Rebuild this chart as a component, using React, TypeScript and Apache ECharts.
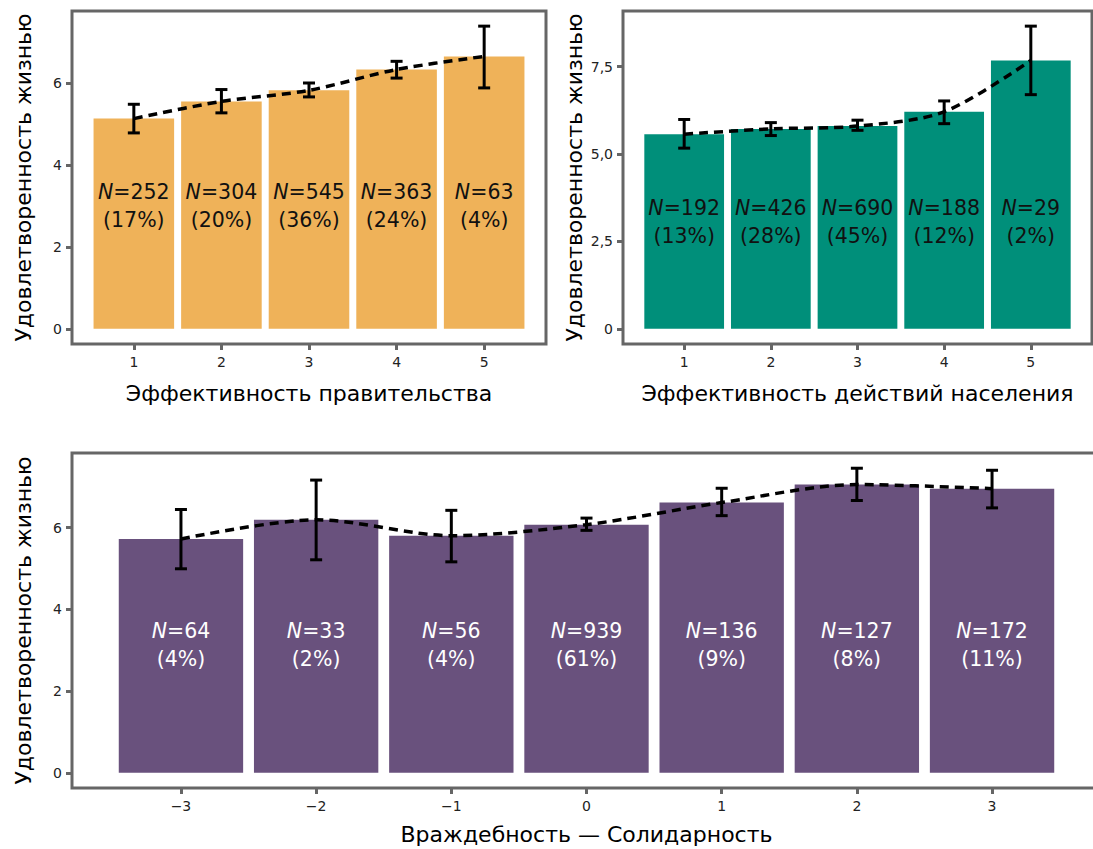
import React, { useEffect, useRef } from "react";
import * as echarts from "echarts";

// ---- data ----
const govX = [1, 2, 3, 4, 5];
const govMean = [5.14, 5.56, 5.83, 6.34, 6.66];
const govLow = [4.79, 5.28, 5.67, 6.13, 5.89];
const govHigh = [5.49, 5.85, 6.01, 6.54, 7.4];
const govN = [252, 304, 545, 363, 63];
const govPct = [17, 20, 36, 24, 4];

const popX = [1, 2, 3, 4, 5];
const popMean = [5.57, 5.72, 5.8, 6.21, 7.68];
const popLow = [5.17, 5.53, 5.68, 5.87, 6.7];
const popHigh = [5.99, 5.9, 5.97, 6.52, 8.66];
const popN = [192, 426, 690, 188, 29];
const popPct = [13, 28, 45, 12, 2];

const solX = [-3, -2, -1, 0, 1, 2, 3];
const solMean = [5.72, 6.19, 5.8, 6.07, 6.61, 7.05, 6.95];
const solLow = [4.99, 5.21, 5.16, 5.93, 6.29, 6.66, 6.48];
const solHigh = [6.44, 7.16, 6.42, 6.23, 6.96, 7.45, 7.4];
const solN = [64, 33, 56, 939, 136, 127, 172];
const solPct = [4, 2, 4, 61, 9, 8, 11];

const govYTicks = [0, 2, 4, 6];
const popYTicks = [0, 2.5, 5, 7.5];
const solYTicks = [0, 2, 4, 6];

const govTitle = "Эффективность правительства";
const popTitle = "Эффективность действий населения";
const solTitle = "Враждебность — Солидарность";
const yTitle = "Удовлетворенность жизнью";

const FONT = "DejaVu Sans";
const HALF = 0.46;

function panel(
  idx: number,
  xs: number[],
  mean: number[],
  low: number[],
  high: number[],
  ns: number[],
  pcts: number[],
  color: string,
  textColor: string,
  labelY: number,
) {
  const barData = xs.map((x, i) => [x, mean[i], ns[i], pcts[i]]);
  const errData = xs.map((x, i) => [x, low[i], high[i]]);
  const lineData = xs.map((x, i) => [x, mean[i]]);
  return [
    {
      type: "custom",
      xAxisIndex: idx,
      yAxisIndex: idx,
      data: barData,
      z: 2,
      renderItem: (params: any, api: any) => {
        const x = api.value(0);
        const y = api.value(1);
        const n = api.value(2);
        const p = api.value(3);
        const a = api.coord([x - HALF, y]);
        const b = api.coord([x + HALF, 0]);
        const t = api.coord([x, labelY]);
        return {
          type: "group",
          children: [
            {
              type: "rect",
              shape: { x: a[0], y: a[1], width: b[0] - a[0], height: b[1] - a[1] },
              style: { fill: color },
            },
            {
              type: "text",
              x: t[0],
              y: t[1],
              style: {
                text: `{i|N}{r|=${n}}\n{r|(${p}%)}`,
                align: "center",
                verticalAlign: "middle",
                fill: textColor,
                rich: {
                  i: { fontStyle: "italic", fontSize: 20.5, fontFamily: FONT, fill: textColor, lineHeight: 28 },
                  r: { fontSize: 20.5, fontFamily: FONT, fill: textColor, lineHeight: 28 },
                },
              },
            },
          ],
        };
      },
    },
    {
      type: "line",
      xAxisIndex: idx,
      yAxisIndex: idx,
      data: lineData,
      smooth: 0.3,
      symbol: "none",
      z: 3,
      lineStyle: { color: "#000", width: 3.5, type: [9, 6] },
    },
    {
      type: "custom",
      xAxisIndex: idx,
      yAxisIndex: idx,
      data: errData,
      z: 4,
      renderItem: (params: any, api: any) => {
        const x = api.value(0);
        const lo = api.coord([x, api.value(1)]);
        const hi = api.coord([x, api.value(2)]);
        const st = { stroke: "#000", lineWidth: 3 };
        return {
          type: "group",
          children: [
            { type: "line", shape: { x1: lo[0], y1: lo[1], x2: hi[0], y2: hi[1] }, style: st },
            { type: "line", shape: { x1: lo[0] - 6, y1: lo[1], x2: lo[0] + 6, y2: lo[1] }, style: st },
            { type: "line", shape: { x1: hi[0] - 6, y1: hi[1], x2: hi[0] + 6, y2: hi[1] }, style: st },
          ],
        };
      },
    },
  ];
}

function xRange(xs: number[]) {
  const lo = Math.min(...xs) - HALF;
  const hi = Math.max(...xs) + HALF;
  const e = (hi - lo) * 0.05;
  return [lo - e, hi + e];
}
function yRange(high: number[]) {
  const m = Math.max(...high);
  return [-m * 0.05, m * 1.05];
}

const fmtNum = (v: number) => {
  if (v === 0) return "0";
  const s = Number.isInteger(v) ? String(v) : v.toFixed(1).replace(".", ",");
  return s.replace("-", "\u2212");
};
const fmtDec = (v: number) => (v === 0 ? "0" : v.toFixed(1).replace(".", ","));

const axisLineStyle = { show: false, onZero: false };

function xAxis(idx: number, xs: number[], title: string, gap: number) {
  const [mn, mx] = xRange(xs);
  return {
    type: "value",
    gridIndex: idx,
    min: mn,
    max: mx,
    axisLine: axisLineStyle,
    splitLine: { show: false },
    axisTick: { show: true, customValues: xs, length: 6, lineStyle: { color: "#666", width: 3 } },
    axisLabel: {
      customValues: xs,
      formatter: (v: number) => fmtNum(v),
      color: "#222",
      fontSize: 14,
      fontFamily: FONT,
      margin: 11,
    },
    name: title,
    nameLocation: "middle",
    nameGap: gap,
    nameTextStyle: { fontSize: 22, fontFamily: FONT, color: "#000" },
  };
}

function yAxis(idx: number, high: number[], ticks: number[], fmt: (v: number) => string) {
  const [mn, mx] = yRange(high);
  return {
    type: "value",
    gridIndex: idx,
    min: mn,
    max: mx,
    axisLine: axisLineStyle,
    splitLine: { show: false },
    axisTick: { show: true, customValues: ticks, length: 6, lineStyle: { color: "#666", width: 3 } },
    axisLabel: {
      customValues: ticks,
      formatter: fmt,
      color: "#222",
      fontSize: 14,
      fontFamily: FONT,
      margin: 10,
    },
    name: yTitle,
    nameLocation: "middle",
    nameGap: 38,
    nameTextStyle: { fontSize: 22, fontFamily: FONT, color: "#000" },
  };
}

export default function App() {
  const ref = useRef<HTMLDivElement>(null);
  useEffect(() => {
    if (!ref.current) return;
    const chart = echarts.init(ref.current, null, { renderer: "svg" });
    const gridStyle = { show: true, borderColor: "#666", borderWidth: 3, backgroundColor: "#fff" };
    chart.setOption({
      animation: false,
      backgroundColor: "#fff",
      grid: [
        { left: 72, top: 11, width: 474, height: 333, ...gridStyle },
        { left: 623, top: 11, width: 469, height: 333, ...gridStyle },
        { left: 72, top: 453, width: 1029, height: 335, ...gridStyle },
      ],
      xAxis: [xAxis(0, govX, govTitle, 38), xAxis(1, popX, popTitle, 38), xAxis(2, solX, solTitle, 35)],
      yAxis: [
        yAxis(0, govHigh, govYTicks, fmtNum),
        yAxis(1, popHigh, popYTicks, fmtDec),
        yAxis(2, solHigh, solYTicks, fmtNum),
      ],
      series: [
        ...panel(0, govX, govMean, govLow, govHigh, govN, govPct, "#EFB259", "#111", 3.0),
        ...panel(1, popX, popMean, popLow, popHigh, popN, popPct, "#008F7A", "#111", 3.05),
        ...panel(2, solX, solMean, solLow, solHigh, solN, solPct, "#69517D", "#fff", 3.13),
      ],
    });
    return () => chart.dispose();
  }, []);
  return (
    <div style={{ position: "fixed", left: 0, top: 0, width: 1093, height: 849, overflow: "hidden", background: "#fff" }}>
      <div ref={ref} style={{ width: 1110, height: 849 }} />
    </div>
  );
}
